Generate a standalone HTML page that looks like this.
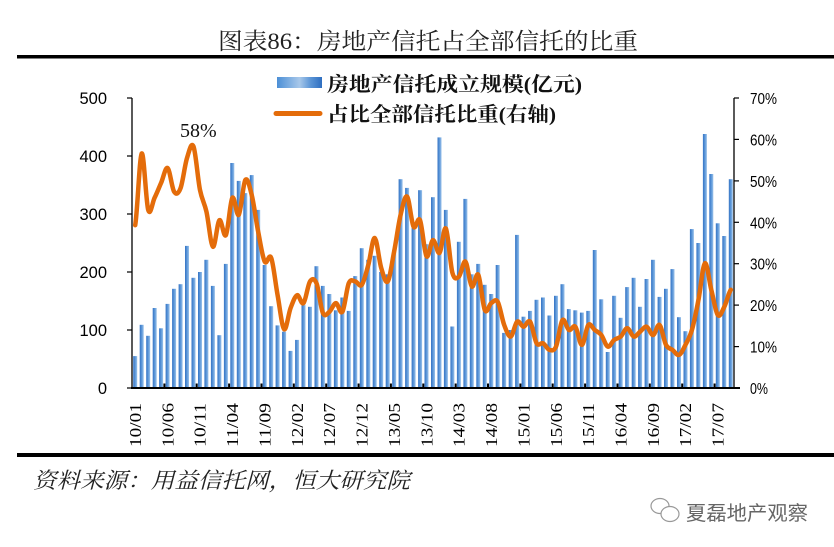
<!DOCTYPE html>
<html><head><meta charset="utf-8"><style>
html,body{margin:0;padding:0;background:#fff;}
svg{display:block;}
</style></head><body>
<svg width="834" height="547" viewBox="0 0 834 547" xmlns="http://www.w3.org/2000/svg">
<defs>
<linearGradient id="bg" x1="0" y1="0" x2="1" y2="0">
<stop offset="0" stop-color="#3473c4"/><stop offset="0.5" stop-color="#5c97d9"/><stop offset="1" stop-color="#9bc2ea"/>
</linearGradient>
<linearGradient id="lg" x1="0" y1="0" x2="1" y2="0">
<stop offset="0" stop-color="#4c8fd6"/><stop offset="0.5" stop-color="#a8c8ea"/><stop offset="0.75" stop-color="#5b95d6"/><stop offset="1" stop-color="#2e6ec0"/>
</linearGradient>
</defs>
<rect width="834" height="547" fill="#fff"/>
<text x="428" y="49" text-anchor="middle" font-family="'Liberation Serif','Noto Serif CJK SC',serif" font-size="23" textLength="420" lengthAdjust="spacingAndGlyphs" fill="#222">图表86：房地产信托占全部信托的比重</text>
<rect x="17" y="55" width="817" height="3.5" fill="#000"/>

<!-- legend -->
<rect x="277" y="77" width="45" height="11" fill="url(#lg)"/>
<text x="327" y="91" font-family="'Liberation Serif','Noto Serif CJK SC',serif" font-weight="bold" font-size="20" textLength="255" lengthAdjust="spacingAndGlyphs" fill="#111">房地产信托成立规模(亿元)</text>
<line x1="276" y1="113.5" x2="320" y2="113.5" stroke="#E46C0A" stroke-width="5" stroke-linecap="round"/>
<text x="327" y="121" font-family="'Liberation Serif','Noto Serif CJK SC',serif" font-weight="bold" font-size="20" textLength="229" lengthAdjust="spacingAndGlyphs" fill="#111">占比全部信托比重(右轴)</text>

<!-- bars -->
<g fill="url(#bg)">
<rect x="133.2" y="356.1" width="4" height="31.9"/>
<rect x="139.7" y="324.8" width="4" height="63.2"/>
<rect x="146.2" y="335.8" width="4" height="52.2"/>
<rect x="152.7" y="308.0" width="4" height="80.0"/>
<rect x="159.1" y="328.3" width="4" height="59.7"/>
<rect x="165.6" y="303.9" width="4" height="84.1"/>
<rect x="172.1" y="288.8" width="4" height="99.2"/>
<rect x="178.6" y="284.2" width="4" height="103.8"/>
<rect x="185.0" y="245.9" width="4" height="142.1"/>
<rect x="191.5" y="277.8" width="4" height="110.2"/>
<rect x="198.0" y="272.0" width="4" height="116.0"/>
<rect x="204.4" y="259.8" width="4" height="128.2"/>
<rect x="210.9" y="285.9" width="4" height="102.1"/>
<rect x="217.4" y="335.2" width="4" height="52.8"/>
<rect x="223.9" y="263.9" width="4" height="124.1"/>
<rect x="230.3" y="163.0" width="4" height="225.0"/>
<rect x="236.8" y="180.9" width="4" height="207.1"/>
<rect x="243.3" y="193.1" width="4" height="194.9"/>
<rect x="249.8" y="175.1" width="4" height="212.9"/>
<rect x="256.2" y="209.9" width="4" height="178.1"/>
<rect x="262.7" y="265.0" width="4" height="123.0"/>
<rect x="269.2" y="306.2" width="4" height="81.8"/>
<rect x="275.6" y="325.4" width="4" height="62.6"/>
<rect x="282.1" y="331.7" width="4" height="56.3"/>
<rect x="288.6" y="350.9" width="4" height="37.1"/>
<rect x="295.1" y="339.9" width="4" height="48.1"/>
<rect x="301.5" y="305.1" width="4" height="82.9"/>
<rect x="308.0" y="306.8" width="4" height="81.2"/>
<rect x="314.5" y="266.2" width="4" height="121.8"/>
<rect x="320.9" y="285.9" width="4" height="102.1"/>
<rect x="327.4" y="294.0" width="4" height="94.0"/>
<rect x="333.9" y="310.3" width="4" height="77.7"/>
<rect x="340.4" y="297.5" width="4" height="90.5"/>
<rect x="346.8" y="310.9" width="4" height="77.1"/>
<rect x="353.3" y="276.1" width="4" height="111.9"/>
<rect x="359.8" y="248.2" width="4" height="139.8"/>
<rect x="366.3" y="259.8" width="4" height="128.2"/>
<rect x="372.7" y="255.8" width="4" height="132.2"/>
<rect x="379.2" y="272.0" width="4" height="116.0"/>
<rect x="385.7" y="274.3" width="4" height="113.7"/>
<rect x="392.2" y="250.0" width="4" height="138.0"/>
<rect x="398.6" y="179.2" width="4" height="208.8"/>
<rect x="405.1" y="187.9" width="4" height="200.1"/>
<rect x="411.6" y="227.9" width="4" height="160.1"/>
<rect x="418.1" y="190.2" width="4" height="197.8"/>
<rect x="424.5" y="244.2" width="4" height="143.8"/>
<rect x="431.0" y="197.2" width="4" height="190.8"/>
<rect x="437.5" y="137.4" width="4" height="250.6"/>
<rect x="443.9" y="209.9" width="4" height="178.1"/>
<rect x="450.4" y="326.5" width="4" height="61.5"/>
<rect x="456.9" y="241.8" width="4" height="146.2"/>
<rect x="463.4" y="198.9" width="4" height="189.1"/>
<rect x="469.8" y="274.3" width="4" height="113.7"/>
<rect x="476.3" y="263.9" width="4" height="124.1"/>
<rect x="482.8" y="284.8" width="4" height="103.2"/>
<rect x="489.3" y="294.0" width="4" height="94.0"/>
<rect x="495.7" y="265.0" width="4" height="123.0"/>
<rect x="502.2" y="332.9" width="4" height="55.1"/>
<rect x="508.7" y="330.0" width="4" height="58.0"/>
<rect x="515.1" y="234.9" width="4" height="153.1"/>
<rect x="521.6" y="316.7" width="4" height="71.3"/>
<rect x="528.1" y="310.9" width="4" height="77.1"/>
<rect x="534.6" y="299.8" width="4" height="88.2"/>
<rect x="541.0" y="297.5" width="4" height="90.5"/>
<rect x="547.5" y="315.5" width="4" height="72.5"/>
<rect x="554.0" y="295.8" width="4" height="92.2"/>
<rect x="560.5" y="284.2" width="4" height="103.8"/>
<rect x="566.9" y="309.1" width="4" height="78.9"/>
<rect x="573.4" y="310.3" width="4" height="77.7"/>
<rect x="579.9" y="312.6" width="4" height="75.4"/>
<rect x="586.3" y="310.9" width="4" height="77.1"/>
<rect x="592.8" y="250.0" width="4" height="138.0"/>
<rect x="599.3" y="299.3" width="4" height="88.7"/>
<rect x="605.8" y="352.0" width="4" height="36.0"/>
<rect x="612.2" y="295.8" width="4" height="92.2"/>
<rect x="618.7" y="317.8" width="4" height="70.2"/>
<rect x="625.2" y="287.1" width="4" height="100.9"/>
<rect x="631.7" y="277.8" width="4" height="110.2"/>
<rect x="638.1" y="306.8" width="4" height="81.2"/>
<rect x="644.6" y="279.0" width="4" height="109.0"/>
<rect x="651.1" y="259.8" width="4" height="128.2"/>
<rect x="657.6" y="296.9" width="4" height="91.1"/>
<rect x="664.0" y="288.8" width="4" height="99.2"/>
<rect x="670.5" y="269.1" width="4" height="118.9"/>
<rect x="677.0" y="317.2" width="4" height="70.8"/>
<rect x="683.5" y="331.2" width="4" height="56.8"/>
<rect x="689.9" y="229.1" width="4" height="158.9"/>
<rect x="696.4" y="243.0" width="4" height="145.0"/>
<rect x="702.9" y="134.0" width="4" height="254.0"/>
<rect x="709.3" y="174.0" width="4" height="214.0"/>
<rect x="715.8" y="223.3" width="4" height="164.7"/>
<rect x="722.3" y="236.0" width="4" height="152.0"/>
<rect x="728.8" y="179.2" width="4" height="208.8"/>
</g>

<!-- axes -->
<g stroke="#000" fill="none">
<line x1="132" y1="98" x2="132" y2="389" stroke-width="1.3"/>
<line x1="734" y1="98" x2="734" y2="389" stroke-width="1.3"/>
<line x1="131" y1="388" x2="740" y2="388" stroke-width="2"/>
<g stroke-width="1.2">
<line x1="127" y1="98" x2="132" y2="98"/><line x1="127" y1="156" x2="132" y2="156"/><line x1="127" y1="214" x2="132" y2="214"/><line x1="127" y1="272" x2="132" y2="272"/><line x1="127" y1="330" x2="132" y2="330"/><line x1="127" y1="388" x2="132" y2="388"/>
<line x1="734" y1="98" x2="739" y2="98"/><line x1="734" y1="139.4" x2="739" y2="139.4"/><line x1="734" y1="180.9" x2="739" y2="180.9"/><line x1="734" y1="222.3" x2="739" y2="222.3"/><line x1="734" y1="263.7" x2="739" y2="263.7"/><line x1="734" y1="305.1" x2="739" y2="305.1"/><line x1="734" y1="346.6" x2="739" y2="346.6"/>
</g>
<g stroke-width="2">
<line x1="164.4" y1="383.5" x2="164.4" y2="388"/><line x1="196.7" y1="383.5" x2="196.7" y2="388"/><line x1="229.1" y1="383.5" x2="229.1" y2="388"/><line x1="261.5" y1="383.5" x2="261.5" y2="388"/><line x1="293.8" y1="383.5" x2="293.8" y2="388"/><line x1="326.2" y1="383.5" x2="326.2" y2="388"/><line x1="358.6" y1="383.5" x2="358.6" y2="388"/><line x1="390.9" y1="383.5" x2="390.9" y2="388"/><line x1="423.3" y1="383.5" x2="423.3" y2="388"/><line x1="455.7" y1="383.5" x2="455.7" y2="388"/><line x1="488.0" y1="383.5" x2="488.0" y2="388"/><line x1="520.4" y1="383.5" x2="520.4" y2="388"/><line x1="552.7" y1="383.5" x2="552.7" y2="388"/><line x1="585.1" y1="383.5" x2="585.1" y2="388"/><line x1="617.5" y1="383.5" x2="617.5" y2="388"/><line x1="649.8" y1="383.5" x2="649.8" y2="388"/><line x1="682.2" y1="383.5" x2="682.2" y2="388"/><line x1="714.6" y1="383.5" x2="714.6" y2="388"/>
</g>
</g>

<!-- line -->
<path fill="none" stroke="#E46C0A" stroke-width="4.5" stroke-linejoin="round" stroke-linecap="round" d="M135.2,225.2 C137.4,213.3 139.5,156.1 141.7,153.5 S146.0,202.5 148.2,209.9 S152.4,202.3 154.6,197.8 S158.9,187.9 161.1,182.9 S165.4,166.6 167.6,168.0 S171.9,188.2 174.1,191.6 S178.3,193.9 180.5,188.3 S184.8,165.1 187.0,158.1 S191.3,141.2 193.5,146.5 S197.8,179.2 200.0,190.0 S204.2,202.0 206.4,211.5 S210.7,245.3 212.9,246.7 S217.2,222.1 219.4,220.2 S223.7,238.8 225.9,235.1 S230.1,201.2 232.3,197.8 S236.6,217.8 238.8,214.8 S243.1,183.3 245.3,180.0 S249.5,186.3 251.7,194.9 S256.0,220.7 258.2,231.8 S262.5,257.3 264.7,261.6 S269.0,252.3 271.2,257.9 S275.4,283.3 277.6,295.2 S281.9,327.1 284.1,329.2 S288.4,313.7 290.6,308.0 S294.9,296.0 297.1,295.2 S301.3,305.4 303.5,303.1 S307.8,284.8 310.0,281.5 S314.3,278.0 316.5,283.2 S320.7,308.2 322.9,313.0 S327.2,313.5 329.4,311.8 S333.7,303.1 335.9,303.1 S340.2,315.1 342.4,311.8 S346.6,288.3 348.8,283.2 S353.1,281.2 355.3,281.5 S359.6,287.6 361.8,284.8 S366.1,272.8 368.3,265.0 S372.5,237.5 374.7,238.0 S379.0,260.7 381.2,267.9 S385.5,284.2 387.7,281.5 S391.9,262.8 394.1,251.7 S398.4,224.0 400.6,214.8 S404.9,194.6 407.1,196.6 S411.4,222.9 413.6,226.8 S417.8,215.3 420.0,220.2 S424.3,253.0 426.5,256.3 S430.8,240.7 433.0,240.1 S437.3,254.8 439.5,252.9 S443.7,225.2 445.9,228.5 S450.2,264.8 452.4,272.8 S456.7,278.5 458.9,276.6 S463.2,260.0 465.4,261.6 S469.6,284.3 471.8,286.5 S476.1,271.0 478.3,274.9 S482.6,305.4 484.8,310.1 S489.0,304.5 491.2,303.1 S495.5,298.2 497.7,301.8 S502.0,319.2 504.2,325.0 S508.5,337.2 510.7,336.6 S514.9,323.4 517.1,321.7 S521.4,326.7 523.6,326.7 S527.9,318.9 530.1,321.7 S534.4,339.7 536.6,343.3 S540.8,342.2 543.0,343.3 S547.3,349.4 549.5,349.9 S553.8,351.6 556.0,346.6 S560.2,322.9 562.4,320.1 S566.7,328.9 568.9,330.0 S573.2,324.2 575.4,326.7 S579.7,345.2 581.9,344.9 S586.1,327.5 588.3,325.0 S592.6,328.3 594.8,330.0 S599.1,332.2 601.3,335.0 S605.6,345.8 607.8,346.6 S612.0,341.6 614.2,339.9 S618.5,338.5 620.7,336.6 S625.0,328.3 627.2,328.3 S631.5,336.0 633.7,336.6 S637.9,333.4 640.1,331.7 S644.4,326.2 646.6,326.7 S650.9,335.3 653.1,335.0 S657.3,323.4 659.5,325.0 S663.8,340.8 666.0,344.9 S670.3,348.2 672.5,349.9 S676.8,355.7 679.0,354.9 S683.2,349.1 685.4,344.9 S689.7,337.5 691.9,330.0 S696.2,311.3 698.4,300.2 S702.7,265.0 704.9,263.3 S709.1,281.2 711.3,289.8 S715.6,312.3 717.8,315.1 S722.1,311.0 724.3,306.8 S728.6,292.6 730.8,289.8"/>

<text x="180" y="137" font-family="'Liberation Serif',serif" font-size="20" fill="#111">58%</text>

<!-- left axis labels -->
<g font-family="'Liberation Sans',sans-serif" font-size="16.5" fill="#000" text-anchor="end">
<text x="107" y="104">500</text><text x="107" y="162">400</text><text x="107" y="220">300</text><text x="107" y="278">200</text><text x="107" y="336">100</text><text x="107" y="394">0</text>
</g>
<!-- right axis labels -->
<g font-family="'Liberation Sans',sans-serif" font-size="16" fill="#000">
<text x="750" y="104" textLength="27" lengthAdjust="spacingAndGlyphs">70%</text>
<text x="750" y="145.4" textLength="27" lengthAdjust="spacingAndGlyphs">60%</text>
<text x="750" y="186.9" textLength="27" lengthAdjust="spacingAndGlyphs">50%</text>
<text x="750" y="228.3" textLength="27" lengthAdjust="spacingAndGlyphs">40%</text>
<text x="750" y="269.7" textLength="27" lengthAdjust="spacingAndGlyphs">30%</text>
<text x="750" y="311.1" textLength="27" lengthAdjust="spacingAndGlyphs">20%</text>
<text x="750" y="352.6" textLength="27" lengthAdjust="spacingAndGlyphs">10%</text>
<text x="750" y="394" textLength="18" lengthAdjust="spacingAndGlyphs">0%</text>
</g>

<!-- x labels -->
<g font-family="'Liberation Serif',serif" font-size="17" fill="#000" text-anchor="end">
<text transform="translate(141.0,403) rotate(-90)" textLength="44" lengthAdjust="spacingAndGlyphs">10/01</text>
<text transform="translate(173.4,403) rotate(-90)" textLength="44" lengthAdjust="spacingAndGlyphs">10/06</text>
<text transform="translate(205.7,403) rotate(-90)" textLength="44" lengthAdjust="spacingAndGlyphs">10/11</text>
<text transform="translate(238.1,403) rotate(-90)" textLength="44" lengthAdjust="spacingAndGlyphs">11/04</text>
<text transform="translate(270.5,403) rotate(-90)" textLength="44" lengthAdjust="spacingAndGlyphs">11/09</text>
<text transform="translate(302.8,403) rotate(-90)" textLength="44" lengthAdjust="spacingAndGlyphs">12/02</text>
<text transform="translate(335.2,403) rotate(-90)" textLength="44" lengthAdjust="spacingAndGlyphs">12/07</text>
<text transform="translate(367.6,403) rotate(-90)" textLength="44" lengthAdjust="spacingAndGlyphs">12/12</text>
<text transform="translate(399.9,403) rotate(-90)" textLength="44" lengthAdjust="spacingAndGlyphs">13/05</text>
<text transform="translate(432.3,403) rotate(-90)" textLength="44" lengthAdjust="spacingAndGlyphs">13/10</text>
<text transform="translate(464.7,403) rotate(-90)" textLength="44" lengthAdjust="spacingAndGlyphs">14/03</text>
<text transform="translate(497.0,403) rotate(-90)" textLength="44" lengthAdjust="spacingAndGlyphs">14/08</text>
<text transform="translate(529.4,403) rotate(-90)" textLength="44" lengthAdjust="spacingAndGlyphs">15/01</text>
<text transform="translate(561.8,403) rotate(-90)" textLength="44" lengthAdjust="spacingAndGlyphs">15/06</text>
<text transform="translate(594.1,403) rotate(-90)" textLength="44" lengthAdjust="spacingAndGlyphs">15/11</text>
<text transform="translate(626.5,403) rotate(-90)" textLength="44" lengthAdjust="spacingAndGlyphs">16/04</text>
<text transform="translate(658.9,403) rotate(-90)" textLength="44" lengthAdjust="spacingAndGlyphs">16/09</text>
<text transform="translate(691.2,403) rotate(-90)" textLength="44" lengthAdjust="spacingAndGlyphs">17/02</text>
<text transform="translate(723.6,403) rotate(-90)" textLength="44" lengthAdjust="spacingAndGlyphs">17/07</text>
</g>

<rect x="17" y="453" width="817" height="4" fill="#000"/>

<text x="33" y="488" font-family="'Liberation Serif','Noto Serif CJK SC',serif" font-style="italic" font-size="22" textLength="377" lengthAdjust="spacingAndGlyphs" fill="#222">资料来源：用益信托网，恒大研究院</text>

<!-- watermark -->
<g fill="none" stroke="#999" stroke-width="1.2">
<ellipse cx="660" cy="506" rx="9" ry="7.5"/>
<ellipse cx="670" cy="514" rx="9" ry="7.5" fill="#fff"/>
</g>
<text x="686" y="520" font-family="'Liberation Sans','Noto Sans CJK SC',sans-serif" font-size="20" textLength="122" lengthAdjust="spacingAndGlyphs" fill="#666">夏磊地产观察</text>
</svg>
</body></html>
